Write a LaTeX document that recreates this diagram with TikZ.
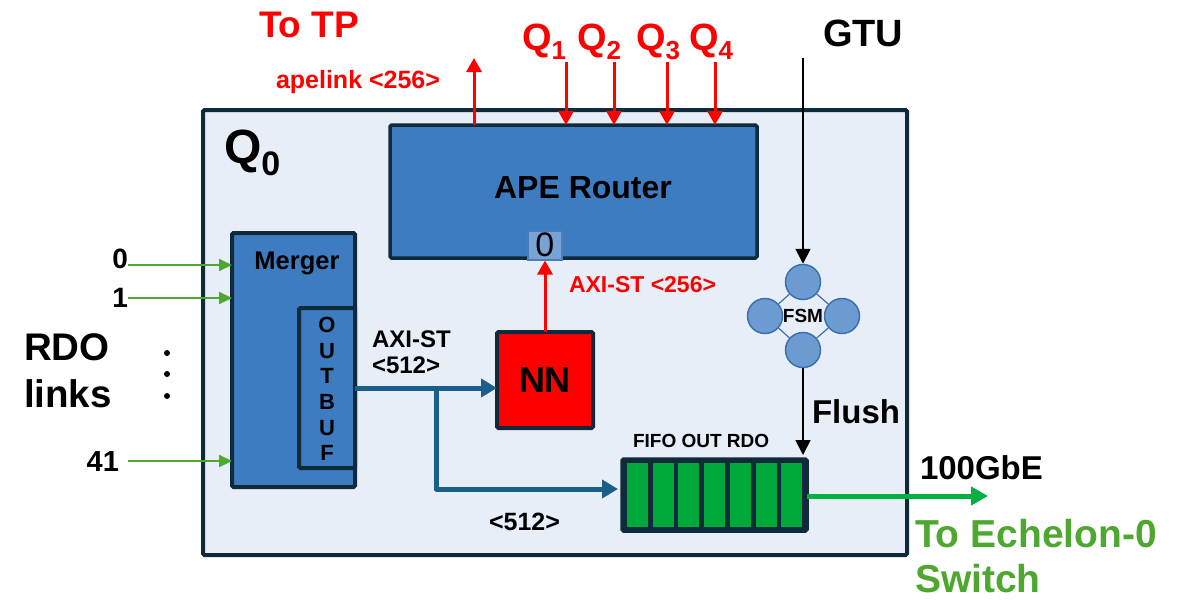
\documentclass[tikz,border=0pt]{standalone}
\usepackage{fontspec}
\setmainfont{Liberation Sans}
\usetikzlibrary{arrows.meta}
\definecolor{dkline}{HTML}{0E2A3B}
\definecolor{bgblue}{HTML}{E8EEF7}
\definecolor{boxblue}{HTML}{3D7CC0}
\definecolor{zeroblue}{HTML}{7AA3D5}
\definecolor{zeroline}{HTML}{4A7DBA}
\definecolor{fsmfill}{HTML}{6C9BD2}
\definecolor{fsmline}{HTML}{3B6FB0}
\definecolor{conblue}{HTML}{1A5F8A}
\definecolor{fifogreen}{HTML}{00A83A}
\definecolor{outgreen}{HTML}{00B140}
\definecolor{txtgreen}{HTML}{4EA72E}
\definecolor{nnred}{HTML}{FF0000}
\newcommand\fsz[1]{\fontsize{#1}{#1}\selectfont}
\newcommand\mysub[3]{\raisebox{-#1}{\fontsize{#2}{#2}\selectfont #3}}
\begin{document}
\begin{tikzpicture}[x=1pt,y=-1pt,
  blk/.style={draw=dkline, line width=3.5pt, rounded corners=1.5pt, inner sep=0pt, outer sep=0pt},
  lbl/.style={inner sep=0pt, outer sep=0pt, font=\bfseries, anchor=base west},
  cell/.style={fill=fifogreen, inner sep=0pt, outer sep=0pt, minimum width=21pt, minimum height=64pt},
  fsmc/.style={circle, draw=fsmline, fill=fsmfill, line width=1.5pt, minimum size=35pt, inner sep=0pt},
  fsmedge/.style={draw=fsmline, line width=1.2pt},
  redarr/.style={draw=nnred, line width=3pt, -{Triangle[length=14pt,width=15pt]}},
  blkarr/.style={draw=black, line width=1.8pt, -{Triangle[length=15pt,width=15pt]}},
  bluearr/.style={draw=conblue, line width=5pt, line join=round, -{Triangle[length=16pt,width=18pt]}},
  grnin/.style={draw=txtgreen, line width=2pt, -{Triangle[length=13pt,width=12pt]}},
  grnout/.style={draw=outgreen, line width=5pt, -{Triangle[length=17pt,width=18pt]}}
]
\useasboundingbox (0,0) rectangle (1192,600);
\fill[white] (0,0) rectangle (1192,600);

% main blocks
\node[blk, fill=bgblue, line width=4pt, minimum width=704pt, minimum height=445pt, anchor=north west] (q0) at (203,110) {};
\node[blk, fill=boxblue, minimum width=367pt, minimum height=133pt, anchor=north west] (router) at (390,125) {};
\node[font=\bfseries\fsz{32}, inner sep=0pt] (routerlbl) at (583,188) {APE Router};
\node[draw=zeroline, fill=zeroblue, line width=1.5pt, inner sep=0pt, minimum width=34pt, minimum height=29pt, anchor=north west, font=\fsz{34}] (zero) at (527,230) {\raisebox{-3pt}{0}};

\node[blk, fill=boxblue, line width=4pt, minimum width=123pt, minimum height=254pt, anchor=north west] (merger) at (232,233) {};
\node[font=\bfseries\fsz{25.5}, inner sep=0pt] (mergerlbl) at (297,263) {Merger};
\node[blk, fill=boxblue, line width=4pt, minimum width=56pt, minimum height=160pt, anchor=north west] (outbuf) at (299,308) {};
\node[font=\bfseries\fontsize{22}{25.6}\selectfont, inner sep=0pt, align=center] (outbuflbl) at (327,389) {O\\U\\T\\B\\U\\F};

\node[blk, fill=nnred, line width=4pt, minimum width=96pt, minimum height=96pt, anchor=north west, font=\bfseries\fsz{36}] (nn) at (497,332) {NN};

\node[blk, fill=dkline, minimum width=185pt, minimum height=72pt, anchor=north west] (fifo) at (622,459) {};
\foreach \i in {0,...,6} {
  \node[cell, anchor=north west] (c\i) at ({627+\i*25.7},463) {};
}
\node[lbl, font=\bfseries\fsz{19}] (fifolbl) at (633,447) {FIFO OUT RDO};

% FSM
\node[fsmc] (fsmT) at (803,282) {};
\node[fsmc] (fsmL) at (765,316) {};
\node[fsmc] (fsmR) at (842,316) {};
\node[fsmc] (fsmB) at (803,350) {};
\draw[fsmedge] (fsmT) -- (fsmL);
\draw[fsmedge] (fsmT) -- (fsmR);
\draw[fsmedge] (fsmB) -- (fsmL);
\draw[fsmedge] (fsmB) -- (fsmR);
\node[font=\bfseries\fsz{19}, inner sep=0pt] (fsmlbl) at (803,316) {FSM};

% top labels and arrows
\node[lbl, text=nnred, font=\bfseries\fsz{37}] (totp) at (259,37) {To TP};
\node[lbl, text=nnred, font=\bfseries\fsz{25}] (apelink) at (276,88) {apelink <256>};
\coordinate (tp) at (474,58);
\draw[redarr] (router.north -| tp) -- (tp);

\node[lbl, text=nnred, font=\bfseries\fsz{38}] (qa) at (522,50) {Q\mysub{9pt}{26}{1}};
\node[lbl, text=nnred, font=\bfseries\fsz{38}] (qb) at (577,50) {Q\mysub{9pt}{26}{2}};
\node[lbl, text=nnred, font=\bfseries\fsz{38}] (qc) at (636,50) {Q\mysub{9pt}{26}{3}};
\node[lbl, text=nnred, font=\bfseries\fsz{38}] (qd) at (689,50) {Q\mysub{9pt}{26}{4}};
\foreach \n/\x in {1/566,2/614,3/667,4/715} {
  \coordinate (qs\n) at (\x,62);
  \draw[redarr] (qs\n) -- (qs\n |- router.north);
}

\node[lbl, font=\bfseries\fsz{48}] (q0lbl) at (224,163) {Q\mysub{12pt}{34}{0}};

\node[lbl, font=\bfseries\fsz{38}] (gtu) at (823,46) {GTU};
\coordinate (gtuc) at (803,58);
\draw[blkarr] (gtuc) -- (fsmT.north);
\draw[blkarr] (fsmB.south) -- ([yshift=4pt]fsmB.south |- fifo.north);
\node[lbl, font=\bfseries\fsz{33}] (flush) at (812,423) {Flush};

% NN to router
\draw[redarr] (nn.north) -- (nn.north |- zero.south);
\node[lbl, text=nnred, font=\bfseries\fsz{23}] (axi256) at (569,292) {AXI-ST <256>};

% blue connectors
\draw[bluearr] (outbuf.east) -- (outbuf.east -| nn.west);
\coordinate (br) at (436,388);
\coordinate (fin) at (618,489);
\draw[bluearr] (br) |- (fin);
\node[lbl, font=\bfseries\fsz{24}] (axi512) at (372,347) {AXI-ST};
\node[lbl, font=\bfseries\fsz{24}] (axi512b) at (372,373) {<512>};
\node[lbl, font=\bfseries\fsz{25}] (lo512) at (489,530) {<512>};

% output
\coordinate (eth) at (988,496);
\draw[grnout] (fifo.east |- eth) -- (eth);
\node[lbl, font=\bfseries\fsz{33}] (gbe) at (920,479) {100GbE};
\node[lbl, text=txtgreen, font=\bfseries\fsz{39}] (ech1) at (915,547) {To Echelon-0};
\node[lbl, text=txtgreen, font=\bfseries\fsz{39}] (ech2) at (915,592) {Switch};

% RDO links
\coordinate (l0) at (128,265);
\coordinate (l1) at (128,298);
\coordinate (l41) at (128,461);
\draw[grnin] (l0) -- (l0 -| merger.west);
\draw[grnin] (l1) -- (l1 -| merger.west);
\draw[grnin] (l41) -- (l41 -| merger.west);
\node[lbl, font=\bfseries\fsz{28}, anchor=base east] (n0) at (128,268) {0};
\node[lbl, font=\bfseries\fsz{28}, anchor=base east] (n1) at (128,307) {1};
\node[lbl, font=\bfseries\fsz{29}, anchor=base east] (n41) at (119,471) {41};
\node[lbl, font=\bfseries\fsz{38.5}] (rdo) at (24,360) {RDO};
\node[lbl, font=\bfseries\fsz{38.5}] (links) at (24,407) {links};
\foreach \yy in {353,374,396} { \fill (167,\yy) circle (3pt); }
\end{tikzpicture}
\end{document}
